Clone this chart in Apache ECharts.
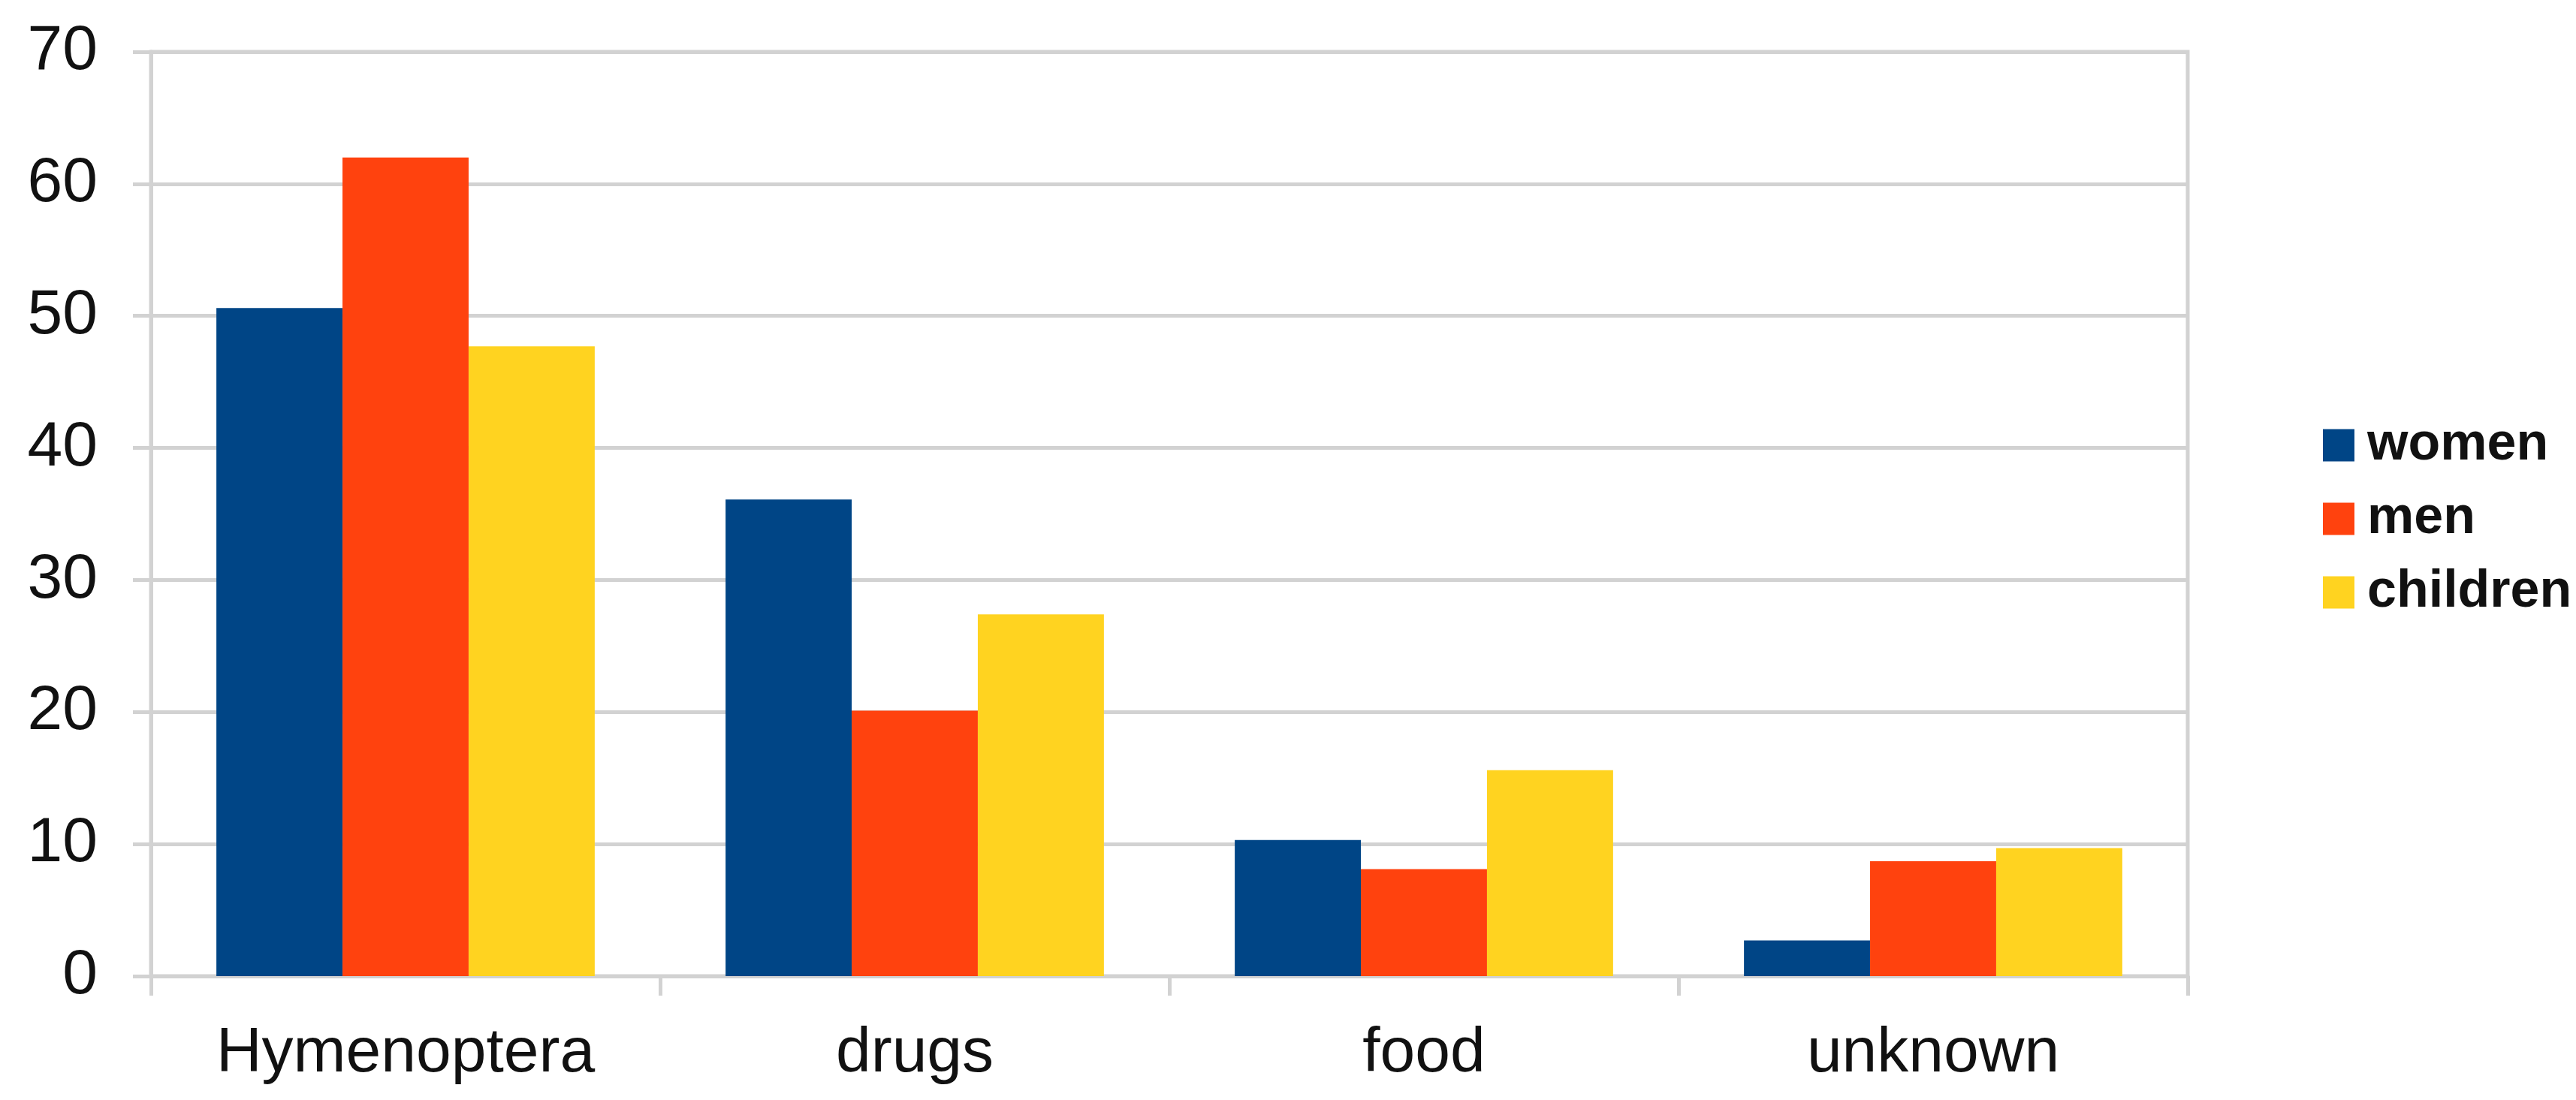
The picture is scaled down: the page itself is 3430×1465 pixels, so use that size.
<!DOCTYPE html>
<html>
  <head>
    <meta charset="utf-8" />
    <title>reactions by cause</title>
    <style>
      html, body { margin: 0; padding: 0; background: #fff; }
      #chartBox { width: 3430px; height: 1465px; }
    </style>
  </head>
  <body>
    <div id="chartBox"></div>
  </body>
  <script src="https://cdn.jsdelivr.net/npm/echarts@6/dist/echarts.min.js"></script>
  <script>
    var categories = ['Hymenoptera', 'drugs', 'food', 'unknown'];
    var seriesNames = ['women', 'men', 'children'];
    var women = [50.6, 36.1, 10.3, 2.7];
    var men = [62.0, 20.1, 8.1, 8.7];
    var children = [47.7, 27.4, 15.6, 9.7];
    var colors = ['#004586', '#ff420e', '#ffd320'];

    var _font = 'Liberation Sans, Arial, sans-serif';
    var _lineColor = '#d2d2d2';

    function makeBar(name, data) {
      return {
        name: name,
        type: 'bar',
        data: data,
        barGap: 0,
        barCategoryGap: '25.7%'
      };
    }

    var myChart = echarts.init(document.getElementById('chartBox'));
    var option = {
      color: colors,
      animation: false,
      grid: {
        left: 201,
        right: 517,
        top: 69,
        bottom: 165,
        show: true,
        borderColor: _lineColor,
        borderWidth: 5
      },
      legend: {
        orient: 'vertical',
        left: 3088,
        top: 553,
        itemWidth: 42,
        itemHeight: 43,
        itemGap: 28,
        icon: 'rect',
        data: seriesNames,
        textStyle: {
          fontFamily: _font,
          fontSize: 70,
          fontWeight: 'bold',
          color: '#111',
          padding: [0, 0, 0, 12]
        }
      },
      xAxis: {
        type: 'category',
        data: categories,
        axisLine: { lineStyle: { color: _lineColor, width: 5 } },
        axisTick: { show: true, length: 26, lineStyle: { color: _lineColor, width: 5 } },
        axisLabel: {
          margin: 62,
          fontFamily: _font,
          fontSize: 84,
          color: '#111'
        }
      },
      yAxis: {
        type: 'value',
        min: 0,
        max: 70,
        interval: 10,
        axisLine: { show: true, lineStyle: { color: _lineColor, width: 5 } },
        axisTick: { show: true, length: 24, lineStyle: { color: _lineColor, width: 5 } },
        splitLine: { lineStyle: { color: _lineColor, width: 5 } },
        axisLabel: {
          margin: 71,
          fontFamily: _font,
          fontSize: 84,
          color: '#111'
        }
      },
      series: [
        makeBar(seriesNames[0], women),
        makeBar(seriesNames[1], men),
        makeBar(seriesNames[2], children)
      ]
    };
    myChart.setOption(option);
  </script>
</html>
